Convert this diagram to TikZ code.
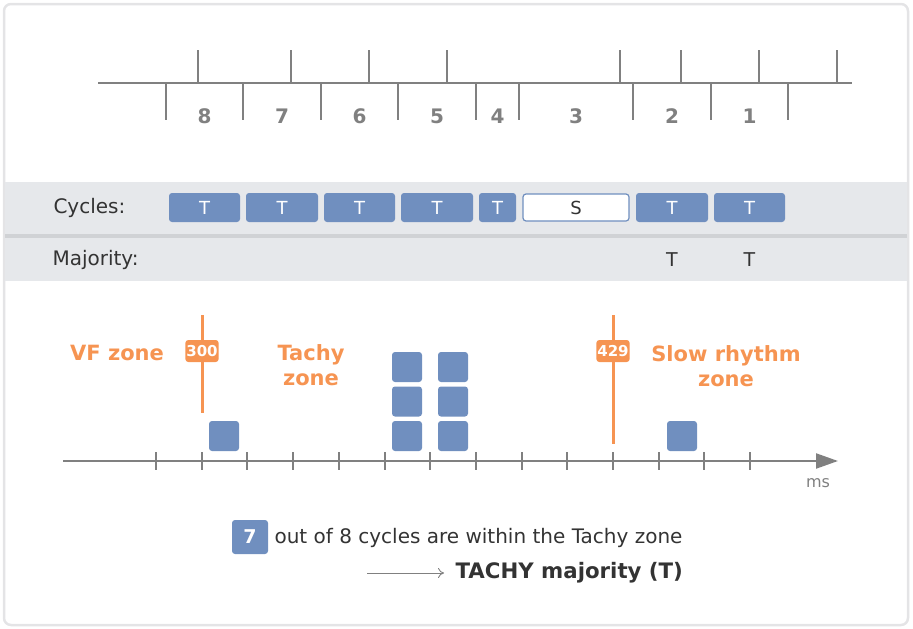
\documentclass[tikz,border=0pt]{standalone}
\usepackage{fontspec}
\setmainfont{DejaVu Sans}
\usetikzlibrary{arrows.meta}

\definecolor{cycblue}{RGB}{112,143,191}
\definecolor{zoneorange}{RGB}{246,148,82}
\definecolor{axisgray}{RGB}{128,128,128}
\definecolor{bandgray}{RGB}{230,232,235}
\definecolor{sepgray}{RGB}{208,210,213}
\definecolor{framegray}{RGB}{228,228,230}
\definecolor{textdark}{RGB}{51,51,51}

\begin{document}
\begin{tikzpicture}[x=1pt, y=-1pt,
        cycle_box/.style={rectangle, fill=cycblue, rounded corners=3pt, minimum height=29pt, inner sep=0pt, text=white, font=\fontsize{18}{19}\selectfont},
        slow_box/.style={cycle_box, fill=white, draw=cycblue, line width=1.2pt, text=textdark},
        rr_square/.style={rectangle, fill=cycblue, rounded corners=3pt, minimum size=30pt, inner sep=0pt},
        zone_tag/.style={rectangle, fill=zoneorange, rounded corners=3pt, minimum width=33pt, minimum height=22pt, inner sep=1pt, text=white, font=\bfseries\fontsize{15}{16}\selectfont},
        zone_label/.style={text=zoneorange, align=center, font=\bfseries\fontsize{21}{25}\selectfont},
        row_label/.style={anchor=west, text=textdark, font=\fontsize{20}{22}\selectfont},
        rr_num/.style={text=axisgray, font=\bfseries\fontsize{20}{22}\selectfont},
        tick_line/.style={draw=axisgray, line width=2.4pt}
    ]
        \useasboundingbox (0,0) rectangle (913,629);
        % frame and grey bands
        \draw[framegray, line width=2.5pt, rounded corners=7pt] (4,4) rectangle (908,625);
        \fill[bandgray] (5,182) rectangle (907,234);
        \fill[sepgray] (5,234) rectangle (907,238);
        \fill[bandgray] (5,238) rectangle (907,281);

        % RR intervals on top
        \coordinate (rr_start) at (98,83);
        \coordinate (rr_end) at (852,83);
        \draw[tick_line] (rr_start) -- (rr_end);
        \foreach \x in {198,291,369,447,620,681,759,837}
            \draw[tick_line] (\x,50) -- (\x,83);
        \foreach \x in {166,243,321,398,476,519,633,711,788}
            \draw[tick_line] (\x,83) -- (\x,120);
        \foreach \x/\n in {204.5/8, 282/7, 359.5/6, 437/5, 497.5/4, 576/3, 672/2, 749.5/1}
            \node[rr_num] (rr_\n) at (\x,116) {\n};

        % cycles row
        \node[row_label] (cycles_label) at (50,208) {Cycles:};
        \foreach \a/\b/\n in {166/243/8, 243/321/7, 321/398/6, 398/476/5, 476/519/4, 633/711/2, 711/788/1} {
            \pgfmathsetmacro{\w}{\b-\a-6}
            \node[cycle_box, minimum width=\w pt] (cyc_\n) at ({(\a+\b)/2},207.5) {T};
        }
        \node[slow_box, minimum width=106pt, minimum height=27pt] (cyc_3) at (576,207.5) {S};

        % majority row
        \node[row_label] (majority_label) at (49,260) {Majority:};
        \node[text=textdark, font=\fontsize{19}{20}\selectfont] (maj_2) at (672,260) {T};
        \node[text=textdark, font=\fontsize{19}{20}\selectfont] (maj_1) at (749.5,260) {T};

        % histogram axis
        \coordinate (ax_start) at (63,461);
        \coordinate (ax_end) at (838,461);
        \draw[axisgray, line width=2.2pt, -{Triangle[length=22pt, width=15pt]}] (ax_start) -- (ax_end);
        \foreach \i in {0,...,13}
            \draw[axisgray, line width=2pt] ({156+45.7*\i},452) -- ({156+45.7*\i},470);
        \node[text=axisgray, font=\fontsize{16}{17}\selectfont] (ms_label) at (818,483) {ms};

        % zone limits
        \coordinate (lim300_top) at (202,315);
        \coordinate (lim300_bot) at (202,413);
        \draw[zoneorange, line width=3pt] (lim300_top) -- (lim300_bot);
        \node[zone_tag] (tag300) at (202,351) {300};
        \coordinate (lim429_top) at (613,315);
        \coordinate (lim429_bot) at (613,444);
        \draw[zoneorange, line width=3pt] (lim429_top) -- (lim429_bot);
        \node[zone_tag] (tag429) at (613,351) {429};

        \node[zone_label] (vf_zone) at (117,353) {VF zone};
        \node[zone_label] (tachy_zone) at (311,365) {Tachy\\zone};
        \node[zone_label] (slow_zone) at (726,366) {Slow rhythm\\zone};

        % cycles falling in each bin
        \node[rr_square] (sq_vf) at (224,436) {};
        \foreach \y in {367,401.5,436} {
            \node[rr_square] at (407,\y) {};
            \node[rr_square] at (453,\y) {};
        }
        \node[rr_square] (sq_slow) at (682,436) {};

        % conclusion
        \node[rr_square, minimum width=36pt, minimum height=34pt, text=white, font=\bfseries\fontsize{19}{20}\selectfont] (count_box) at (250,537) {7};
        \node[anchor=west, text=textdark, font=\fontsize{20}{21}\selectfont] (count_text) at (271,538) {out of 8 cycles are within the Tachy zone};
        \node[anchor=west, text=textdark, font=\bfseries\fontsize{21.3}{22}\selectfont] (result_text) at (452,573) {TACHY majority (T)};
        \coordinate (result_arrow) at (367,573);
        \draw[axisgray, line width=0.9pt, shorten >=8pt, -{To[length=6pt, width=10pt]}] (result_arrow) -- (result_text.west);
\end{tikzpicture}
\end{document}
